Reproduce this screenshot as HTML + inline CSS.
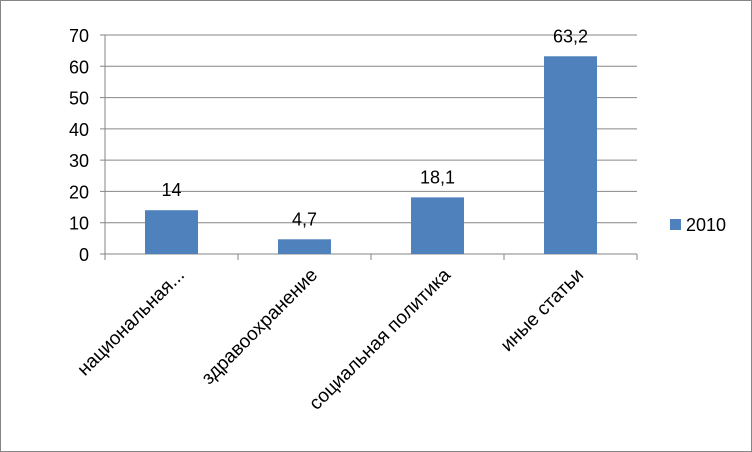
<!DOCTYPE html>
<html><head><meta charset="utf-8"><style>
body{margin:0;background:#fff}
svg{display:block;font-family:"Liberation Sans","DejaVu Sans",sans-serif}
</style></head><body>
<svg id="c" width="752" height="452" viewBox="0 0 752 452">
<rect x="0.5" y="0.5" width="751" height="451" fill="#fff" stroke="#868686"/>
<g id="grid"></g><g id="bars"></g><g id="labels"></g>
<rect x="670" y="219" width="11" height="11" fill="#4f81bd"/>
<text x="686" y="231" font-size="18" fill="#000">2010</text>
</svg>
<script>
const categories=["национальная...","здравоохранение","социальная политика","иные статьи"];
const values=[14,4.7,18.1,63.2];
const valueLabels=["14","4,7","18,1","63,2"];
const yTicks=[0,10,20,30,40,50,60,70];
const NS="http://www.w3.org/2000/svg";
const x0=105,x1=637,y0=254,yTop=35,yMax=70;
const y=v=>y0-(v/yMax)*(y0-yTop);
const bw=(x1-x0)/categories.length;
function mk(t,a,p){const e=document.createElementNS(NS,t);for(const k in a)e.setAttribute(k,a[k]);p.appendChild(e);return e;}
const g=document.getElementById('grid'),b=document.getElementById('bars'),l=document.getElementById('labels');
yTicks.forEach(t=>{
 const ln=mk('line',{x1:x0-5,x2:x1,y1:y(t),y2:y(t),stroke:'#868686','stroke-width':1},g);
 
 
 const tx=mk('text',{x:x0-16,y:y(t)+7,'text-anchor':'end','font-size':18},g);
 tx.textContent=t;
 
 
});
const ax=mk('line',{x1:x0,x2:x0,y1:yTop,y2:y0,stroke:'#868686'},g);


for(let i=0;i<=categories.length;i++){
 const tk=mk('line',{x1:x0+i*bw,x2:x0+i*bw,y1:y0,y2:y0+6,stroke:'#868686'},g);
 
 
}
categories.forEach((c,i)=>{
 const cx=x0+bw*(i+0.5),w=53;
 const r=mk('rect',{x:cx-w/2,y:y(values[i]),width:w,height:y0-y(values[i]),fill:'#4f81bd'},b);
 
 
 const vl=mk('text',{x:cx,y:y(values[i])-14,'text-anchor':'middle','font-size':18},l);
 vl.textContent=valueLabels[i];
 
 
 const cl=mk('text',{x:0,y:0,'text-anchor':'end','font-size':19,transform:`translate(${cx+14},${y0+22}) rotate(-45)`},l);
 cl.textContent=c;
 
 
});
</script>
</body></html>
